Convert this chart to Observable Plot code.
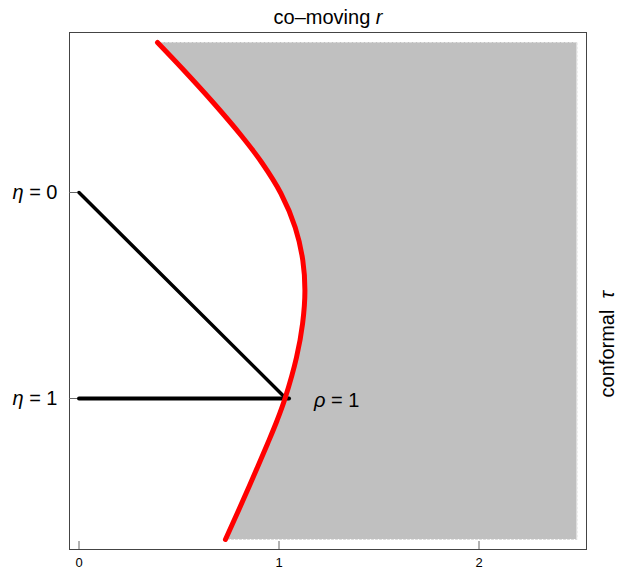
<!DOCTYPE html>
<html><head><meta charset="utf-8">
<script src="https://cdn.jsdelivr.net/npm/d3@7"></script>
<script src="https://cdn.jsdelivr.net/npm/@observablehq/plot@0.6"></script>
<style>
body{margin:0;background:#fff}
#chart svg{font-family:"Liberation Sans",Arial,Helvetica,sans-serif;background:#fff}
</style>
</head><body><div id="chart"></div>
<script>
// ---- data (co-moving r, conformal tau) ----
const curveR   = [0.3925, 0.516, 0.6707, 0.811, 0.9136, 1.0097, 1.0811, 1.1191, 1.1296, 1.118, 1.0874, 1.03, 0.9904, 0.9432, 0.8701, 0.7975, 0.7322];
const curveTau = [1.78,   1.65,  1.48,   1.315, 1.18,   1.025,  0.855,  0.69,   0.54,   0.375, 0.205,  0.0,  -0.11,  -0.225, -0.395, -0.56,  -0.705];
const shadeOuterR = 2.49;
const lightRayR   = [0, 1.03];
const lightRayTau = [1.03, 0.005];
const equalTimeR   = [0, 1.05];
const equalTimeTau = [0, 0];
const rhoLabel = ["ρ = 1"];
const rhoLabelR = [1.175];
const rhoLabelTau = [-0.01];
const xTicks = [0, 1, 2];
const xTickLabels = ["0", "1", "2"];
const yTicks = [1.03, 0];
const yTickLabels = ["η = 0", "η = 1"];
const titleText = ["co–moving r"];
const sideText = ["conformal  τ"];

const curve = curveR.map((r, i) => ({r, tau: curveTau[i]}));
const lightRay = lightRayR.map((r, i) => ({r, tau: lightRayTau[i]}));
const equalTime = equalTimeR.map((r, i) => ({r, tau: equalTimeTau[i]}));
const last = curve.length - 1;
const shadeEdge = [
  {r: curveR[0], tau: curveTau[0]}, {r: shadeOuterR, tau: curveTau[0]},
  {r: shadeOuterR, tau: curveTau[last]}, {r: curveR[last], tau: curveTau[last]}
];

const W = 620, H = 576, mL = 69, mR = 34, mT = 32, mB = 27;
const innerW = W - mL - mR, innerH = H - mT - mB;

const chart = Plot.plot({
  width: W, height: H,
  marginLeft: mL, marginRight: mR, marginTop: mT, marginBottom: mB,
  x: {domain: [-0.0475, 2.5375]},
  y: {domain: [-0.755, 1.83]},
  marks: [
    Plot.areaX(curve, {y: "tau", x1: "r", x2: shadeOuterR, fill: "#c0c0c0", curve: "catmull-rom"}),
    Plot.line(shadeEdge, {x: "r", y: "tau", stroke: "#dcdcdc", strokeWidth: 1, strokeDasharray: "2,2"}),
    Plot.line(lightRay, {x: "r", y: "tau", stroke: "#000", strokeWidth: 3.5}),
    Plot.line(equalTime, {x: "r", y: "tau", stroke: "#000", strokeWidth: 4}),
    Plot.line(curve, {x: "r", y: "tau", stroke: "#ff0000", strokeWidth: 5, curve: "catmull-rom"}),
    Plot.text(rhoLabel, {x: rhoLabelR, y: rhoLabelTau, text: d => d, textAnchor: "start", fontSize: 20, fill: "#000"}),
    Plot.frame({stroke: "#444", strokeWidth: 1}),
    Plot.tickX(xTicks, {x: d => d, insetTop: innerH - 8, stroke: "#666", strokeWidth: 1}),
    Plot.tickY(yTicks, {y: d => d, insetRight: innerW - 8, stroke: "#666", strokeWidth: 1}),
    Plot.axisX(xTicks, {anchor: "bottom", tickSize: 0, tickPadding: 8, fontSize: 13, tickFormat: (d, i) => xTickLabels[i], label: null, fill: "#000"}),
    Plot.axisY(yTicks, {anchor: "left", tickSize: 0, tickPadding: 12, fontSize: 20, tickFormat: (d, i) => yTickLabels[i], label: null, fill: "#000"}),
    Plot.text(titleText, {frameAnchor: "top", dy: -23, text: d => d, fontSize: 20, fill: "#000"}),
    Plot.text(sideText, {frameAnchor: "right", dx: 21, rotate: -90, text: d => d, fontSize: 20, fill: "#000"})
  ]
});

// italicize math symbols
d3.select(chart).selectAll("text").each(function() {
  const el = this;
  const targets = el.querySelector("tspan") ? Array.from(el.querySelectorAll("tspan")) : [el];
  for (const t of targets) {
    const s = t.textContent;
    if (/[ηρτ]/.test(s) || s === "co–moving r") {
      let html = s.replace(/[ηρτ]/g, m => `<tspan font-style="italic">${m}</tspan>`);
      if (s === "co–moving r") html = "co–moving <tspan font-style=\"italic\">r</tspan>";
      t.innerHTML = html;
      t.setAttribute("xml:space", "preserve");
      t.style.whiteSpace = "pre";
    }
  }
});

document.getElementById("chart").appendChild(chart);
</script>
</body></html>
